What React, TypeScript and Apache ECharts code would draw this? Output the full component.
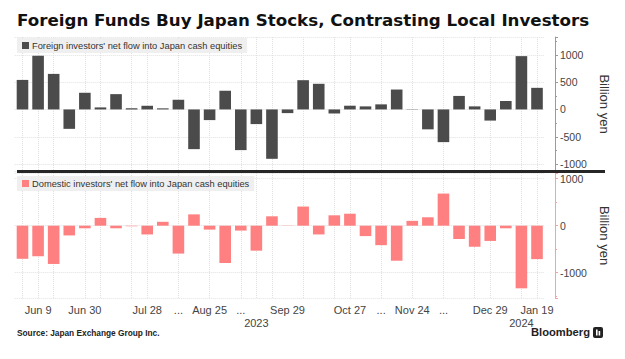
import React, { useEffect, useRef } from "react";
import * as echarts from "echarts";

const weeks = [
  "Jun 2", "Jun 9", "Jun 16", "Jun 23", "Jun 30", "Jul 7", "Jul 14", "Jul 21", "Jul 28",
  "Aug 4", "Aug 11", "Aug 18", "Aug 25", "Sep 1", "Sep 8", "Sep 15", "Sep 22", "Sep 29",
  "Oct 6", "Oct 13", "Oct 20", "Oct 27", "Nov 3", "Nov 10", "Nov 17", "Nov 24",
  "Dec 1", "Dec 8", "Dec 15", "Dec 22", "Dec 29", "Jan 5", "Jan 12", "Jan 19",
];

const foreignFlow = [
  540, 980, 650, -355, 305, 37, 280, 20, 67, 20, 177, -726, -195, 342, -744, -268, -903,
  -67, 535, 469, -74, 68, 56, 93, 364, 5, -364, -598, 247, 56, -204, 154, 975, 395,
];

const domesticFlow = [
  -704, -649, -814, -207, -55, 166, -55, -10, -186, 83, -593, 241, -83, -794, -104, -531,
  200, 5, 407, -186, 221, 255, -221, -414, -745, 103, 179, 683, -283, -448, -324, -55,
  -1332, -711,
];

const xTickLabels = [
  "", "Jun 9", "", "", "Jun 30", "", "", "", "Jul 28", "", "...", "", "Aug 25", "", "...",
  "\n2023", "", "Sep 29", "", "", "", "Oct 27", "", "...", "", "Nov 24", "", "...", "", "",
  "Dec 29", "", "\n2024", "Jan 19",
];

const vGridIdx = [0, 1, 2, 4, 5, 7, 8, 10, 12, 14, 15, 16, 18, 20, 21, 23, 25, 27, 29, 30, 32, 33];

const foreignName = "Foreign investors' net flow into Japan cash equities";
const domesticName = "Domestic investors' net flow into Japan cash equities";

export default function App() {
  const ref = useRef<HTMLDivElement>(null);
  useEffect(() => {
    const chart = echarts.init(ref.current!, null, { renderer: "svg" });
    const font = "'Liberation Sans', Arial, sans-serif";
    const titleFont = "'DejaVu Sans', Verdana, sans-serif";
    const gridLeft = 14.7;
    const gridW = 530.1;
    const legendBase = {
      left: 17,
      icon: "rect",
      itemWidth: 7,
      itemHeight: 7,
      itemGap: 4,
      padding: [3, 5, 3, 5],
      backgroundColor: "rgba(238,238,238,0.95)",
      selectedMode: false,
      textStyle: { fontFamily: font, fontSize: 9.3, color: "#333", padding: [0, 0, 0, -2] },
    };
    const xBase = (gi: number) => ({
      type: "category",
      gridIndex: gi,
      data: weeks,
      boundaryGap: true,
      axisLine: { show: false },
      axisTick: { show: false },
      splitLine: {
        show: true,
        alignWithLabel: true,
        interval: (i: number) => vGridIdx.includes(i),
        lineStyle: { color: "#e0e0e0", type: "dotted", width: 1 },
      },
    });
    const yBase = (gi: number, axisColor: string) => ({
      type: "value",
      gridIndex: gi,
      position: "right",
      offset: 10.2,
      name: "Billion yen",
      nameLocation: "middle",
      nameRotate: -90,
      nameGap: 42.5,
      nameTextStyle: { fontFamily: font, fontSize: 13, color: "#333" },
      axisLine: { show: true, lineStyle: { color: axisColor, width: 1 } },
      axisTick: { show: true, length: 3, lineStyle: { color: axisColor } },
      minorTick: { show: true, splitNumber: 2, length: 2, lineStyle: { color: axisColor } },
      axisLabel: {
        fontFamily: font,
        fontSize: 10.5,
        color: "#444",
        margin: 5,
        showMinLabel: false,
        showMaxLabel: false,
        formatter: (v: number) => String(v),
      },
      splitLine: { show: true, lineStyle: { color: "#e0e0e0", type: "dotted" } },
    });
    chart.setOption({
      animation: false,
      textStyle: { fontFamily: font },
      grid: [
        { left: gridLeft, width: gridW, top: 37, height: 134 },
        { left: gridLeft, width: gridW, top: 173, height: 125 },
      ],
      legend: [
        { ...legendBase, data: [foreignName], top: 38 },
        { ...legendBase, data: [domesticName], top: 176 },
      ],
      xAxis: [
        { ...xBase(0), axisLabel: { show: false } },
        {
          ...xBase(1),
          axisLabel: {
            show: true,
            interval: 0,
            formatter: (_v: string, i: number) => xTickLabels[i],
            fontFamily: font,
            fontSize: 11,
            color: "#444",
            lineHeight: 13,
            margin: 5,
          },
        },
      ],
      yAxis: [
        { ...yBase(0, "#9a9a9a"), min: -1126, max: 1325, splitNumber: 5 },
        { ...yBase(1, "#f4a3a3"), min: -1538, max: 1121, splitNumber: 2 },
      ],
      series: [
        {
          name: foreignName,
          type: "bar",
          xAxisIndex: 0,
          yAxisIndex: 0,
          data: foreignFlow,
          barWidth: 11.6,
          itemStyle: { color: "#4b4b4b" },
        },
        {
          name: domesticName,
          type: "bar",
          xAxisIndex: 1,
          yAxisIndex: 1,
          data: domesticFlow,
          barWidth: 11.6,
          itemStyle: { color: "#ff8080" },
        },
      ],
      graphic: [
        {
          type: "text",
          left: 17,
          top: 11,
          style: {
            text: "Foreign Funds Buy Japan Stocks, Contrasting Local Investors",
            fontFamily: titleFont,
            fontWeight: "bold",
            fontSize: 16.7,
            fill: "#111",
          },
        },
        {
          type: "line",
          shape: { x1: 17, y1: 171.5, x2: 605, y2: 171.5 },
          style: { stroke: "#262626", lineWidth: 3 },
          z: 10,
        },
        {
          type: "text",
          left: 17,
          top: 329,
          style: {
            text: "Source: Japan Exchange Group Inc.",
            fontFamily: font,
            fontWeight: "bold",
            fontSize: 8.3,
            fill: "#222",
          },
        },
        {
          type: "text",
          right: 35,
          top: 326,
          style: {
            text: "Bloomberg",
            fontFamily: font,
            fontWeight: "bold",
            fontSize: 11.2,
            fill: "#222",
          },
        },
        {
          type: "rect",
          shape: { x: 593, y: 327, width: 10, height: 11, r: 2 },
          style: { fill: "#222" },
        },
        {
          type: "rect",
          shape: { x: 596, y: 329.5, width: 1.6, height: 6 },
          style: { fill: "#fff" },
        },
        {
          type: "rect",
          shape: { x: 598.6, y: 331, width: 1.6, height: 4.5 },
          style: { fill: "#fff" },
        },
      ],
    });
    return () => chart.dispose();
  }, []);
  return (
    <div
      ref={ref}
      style={{ position: "fixed", left: 0, top: 0, width: 625, height: 359, background: "#fff" }}
    />
  );
}
